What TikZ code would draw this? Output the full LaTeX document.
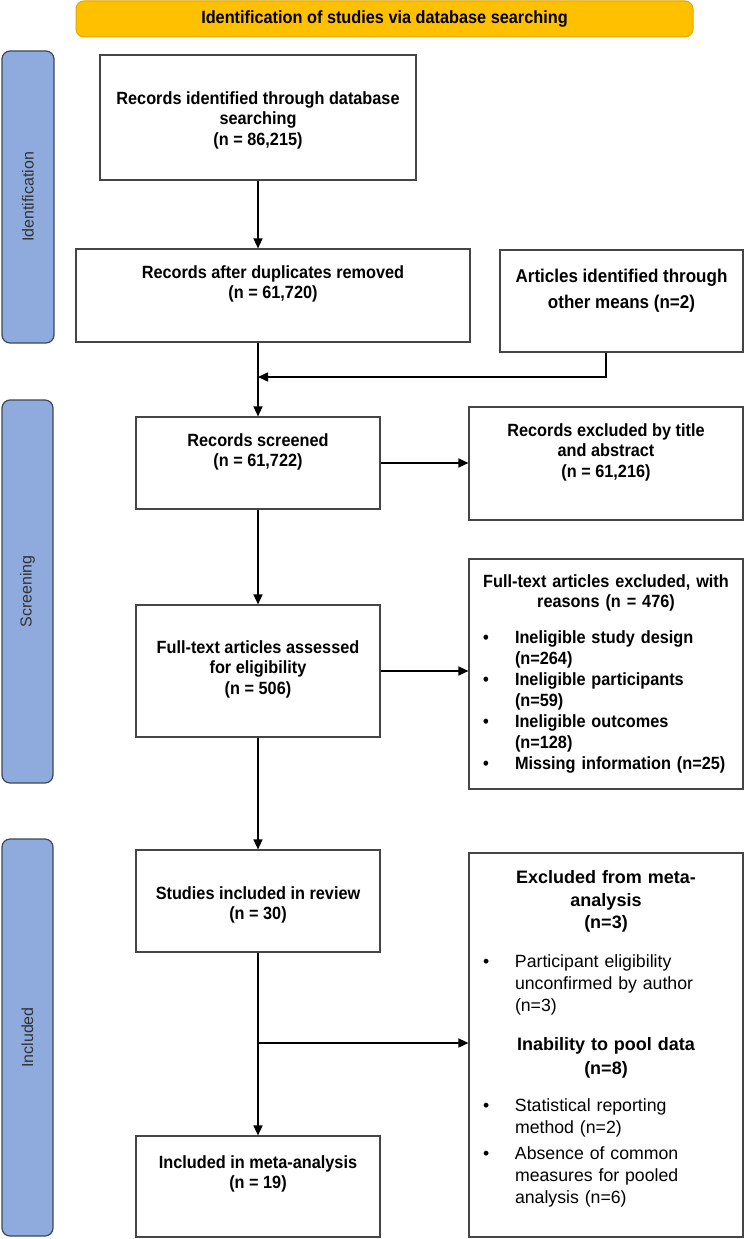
\documentclass[tikz,border=0pt]{standalone}
\usepackage{fontspec}
\setmainfont{Liberation Sans}
\newfontfamily\narrowfont{Liberation Sans}[FakeStretch=0.92]
\usetikzlibrary{positioning,arrows.meta}

\definecolor{titlefill}{HTML}{FFC000}
\definecolor{titleline}{HTML}{E0A800}
\definecolor{barfill}{HTML}{8FAADC}
\definecolor{barline}{HTML}{3E4756}
\definecolor{boxline}{HTML}{454545}

\setlength{\parskip}{0pt}
\newcommand{\bitem}[1]{\noindent\makebox[36pt][l]{\hspace{4pt}\textbullet}%
  \parbox[t]{218pt}{\raggedright\strut #1\strut}\par}

\tikzset{
  box/.style={draw=boxline, line width=1.2pt, fill=white, inner sep=0pt},
  bar/.style={draw=barline, line width=1.2pt, fill=barfill, rounded corners=8pt,
    inner sep=0pt, font=\fontsize{16}{19}\selectfont, text=black!80},
  boxtext/.style={font=\narrowfont\bfseries\fontsize{17.7}{20.5}\selectfont,
    align=center, inner sep=0pt},
  listtext/.style={boxtext, text width=254pt, align=left},
  arr/.style={line width=1.5pt, -{Triangle[length=10pt,width=9pt]}}
}

\begin{document}
\begin{tikzpicture}[x=1pt,y=-1pt]
\useasboundingbox (0,0) rectangle (744,1239);

% header
\node[draw=titleline, fill=titlefill, rounded corners=8pt, line width=1pt,
  minimum width=617pt, minimum height=36pt, inner sep=0pt,
  font=\narrowfont\bfseries\fontsize{17.7}{20.5}\selectfont]
  (title) at (384.5,19) {Identification of studies via database searching};

% phase bars
\node[bar, rotate=90, minimum width=292pt, minimum height=52pt] (idbar) at (28,197) {Identification};
\node[bar, rotate=90, minimum width=383pt, minimum height=51pt] (scbar) at (27.5,591.5) {Screening};
\node[bar, rotate=90, minimum width=397pt, minimum height=51pt] (inbar) at (27.5,1037.5) {Included};

% boxes
\node[box, minimum width=316pt, minimum height=125pt] (rec) at (258,117.5) {};
\node[box, minimum width=394pt, minimum height=93pt]  (dup) at (273,295.5) {};
\node[box, minimum width=243pt, minimum height=102pt] (oth) at (621.5,301) {};
\node[box, minimum width=244pt, minimum height=92pt]  (scr) at (258,463) {};
\node[box, minimum width=274pt, minimum height=113pt] (ext) at (606,463.5) {};
\node[box, minimum width=244pt, minimum height=132pt] (ful) at (258,671) {};
\node[box, minimum width=274pt, minimum height=230pt] (exf) at (606,674) {};
\node[box, minimum width=244pt, minimum height=102pt] (stu) at (258,901) {};
\node[box, minimum width=274pt, minimum height=384pt] (exm) at (606,1045) {};
\node[box, minimum width=244pt, minimum height=101pt] (met) at (258,1186.5) {};

% texts
\node[boxtext, below=37pt of rec.north] (rec-t) {Records identified through database\\searching\\(n = 86,215)};
\node[boxtext, below=17pt of dup.north] (dup-t) {Records after duplicates removed\\(n = 61,720)};
\node[boxtext, below=19pt of oth.north, font=\narrowfont\bfseries\fontsize{18.5}{26}\selectfont] (oth-t) {Articles identified through\\other means (n=2)};
\node[boxtext, below=17pt of scr.north] (scr-t) {Records screened\\(n = 61,722)};
\node[boxtext, below=17pt of ext.north] (ext-t) {Records excluded by title\\and abstract\\(n = 61,216)};
\node[boxtext, below=36pt of ful.north] (ful-t) {Full-text articles assessed\\for eligibility\\(n = 506)};
\node[boxtext, below=37pt of stu.north] (stu-t) {Studies included in review\\(n = 30)};
\node[boxtext, below=20pt of met.north] (met-t) {Included in meta-analysis\\(n = 19)};

\node[listtext, below=16pt of exf.north] (exf-t) {%
  {\centering Full-text articles excluded, with\\reasons (n = 476)\par}
  \vspace{15.5pt}
  \bitem{Ineligible study design\\(n=264)}
  \bitem{Ineligible participants\\(n=59)}
  \bitem{Ineligible outcomes\\(n=128)}
  \bitem{Missing information (n=25)}};

\node[listtext, below=18pt of exm.north] (exm-t) {\normalfont
  {\centering\bfseries\fontsize{18}{22.5}\selectfont Excluded from meta-\\analysis\\(n=3)\par}
  \vspace{17pt}
  {\fontsize{17.7}{22}\selectfont\bitem{Participant eligibility\\unconfirmed by author\\(n=3)}}
  \vspace{18pt}
  {\centering\bfseries\fontsize{18}{24}\selectfont Inability to pool data\\(n=8)\par}
  \vspace{15pt}
  {\fontsize{17.7}{22}\selectfont\bitem{Statistical reporting\\method (n=2)}
  \vspace{3pt}
  \bitem{Absence of common\\measures for pooled\\analysis (n=6)}}};

% connectors
\coordinate (join) at (258,377);
\coordinate (split) at (258,1043);
\draw[arr] (rec.south) -- (rec.south |- dup.north);
\draw[arr] (ext.north |- oth.south) |- (join);
\draw[arr] (dup.south -| rec.south) -- (scr.north);
\draw[arr] (scr.east) -- (scr.east -| ext.west);
\draw[arr] (scr.south) -- (ful.north);
\draw[arr] (ful.east) -- (ful.east -| exf.west);
\draw[arr] (ful.south) -- (stu.north);
\draw[arr] (stu.south) -- (met.north);
\draw[arr] (split) -- (split -| exm.west);
\end{tikzpicture}
\end{document}
